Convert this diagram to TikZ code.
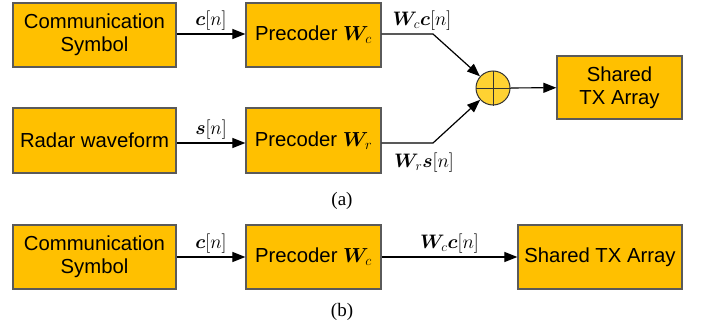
\documentclass[tikz,border=0pt]{standalone}
\usepackage{fix-cm}
\usepackage{amsmath,bm}
\usepackage{fontspec}
\setmainfont{Liberation Serif}
\newfontfamily\boxfont{Liberation Sans}
\usetikzlibrary{arrows.meta}
\definecolor{boxfill}{HTML}{FFC000}
\definecolor{boxline}{HTML}{5A5A5A}
\definecolor{sumfill}{HTML}{FFD232}
\DeclareMathSizes{19.5}{19.5}{13.5}{10}
\tikzset{
  blk/.style={draw=boxline, line width=1.3pt, fill=boxfill, inner sep=0pt, align=center,
    font=\boxfont\fontsize{20.3}{23}\selectfont},
  conn/.style={line width=1.2pt, -{Triangle[length=13pt,width=10pt]}},
  lbl/.style={inner sep=0pt, font=\fontsize{19.5}{22}\selectfont},
  captext/.style={inner sep=0pt, font=\fontsize{19}{22}\selectfont},
}
\begin{document}
\begin{tikzpicture}[x=1pt,y=-1pt]
\useasboundingbox (0,0) rectangle (701,332);
% (a)
\node[blk, minimum width=163pt, minimum height=64pt] (cs1) at (94.5,35) {Communication\\Symbol};
\node[blk, minimum width=135pt, minimum height=64pt] (pc1) at (313.5,35) {Precoder $\bm{W}_c$};
\node[blk, minimum width=163pt, minimum height=65pt] (rw) at (94.5,140.5) {Radar waveform};
\node[blk, minimum width=135pt, minimum height=65pt] (pr) at (313.5,140.5) {Precoder $\bm{W}_r$};
\node[draw=black!80, line width=1pt, fill=sumfill, circle, minimum size=34pt, inner sep=0pt] (sum) at (493,88) {};
\draw[line width=1pt, black!80] (sum.north) -- (sum.south) (sum.west) -- (sum.east);
\node[blk, minimum width=125pt, minimum height=63pt] (tx1) at (619.5,87.5) {Shared\\TX Array};
\coordinate (k1) at (433,34);
\coordinate (k2) at (433,143);
\draw[conn] (cs1.east |- 0,34) -- node[lbl, above=3pt] {$\bm{c}[n]$} (pc1.west |- 0,34);
\draw[conn] (rw.east |- 0,143) -- node[lbl, above=3pt] {$\bm{s}[n]$} (pr.west |- 0,143);
\draw[conn] (pc1.east |- 0,34) -- (k1) -- (sum);
\draw[conn] (pr.east |- 0,143) -- (k2) -- (sum);
\node[lbl] (wc) at (422,21) {$\bm{W}_c\bm{c}[n]$};
\node[lbl] (wr) at (424,163) {$\bm{W}_r\bm{s}[n]$};
\draw[conn] (sum) -- (tx1);
\node[captext] (ca) at (342,201) {(a)};
% (b)
\node[blk, minimum width=163pt, minimum height=64pt] (cs2) at (94.5,257) {Communication\\Symbol};
\node[blk, minimum width=135pt, minimum height=64pt] (pc2) at (313.5,257) {Precoder $\bm{W}_c$};
\node[blk, minimum width=164pt, minimum height=64pt] (tx2) at (600,257) {Shared TX Array};
\draw[conn] (cs2) -- node[lbl, above=3pt] {$\bm{c}[n]$} (pc2);
\draw[conn] (pc2) -- node[lbl, above=3pt] {$\bm{W}_c\bm{c}[n]$} (tx2);
\node[captext] (cb) at (342,312) {(b)};
\end{tikzpicture}
\end{document}
